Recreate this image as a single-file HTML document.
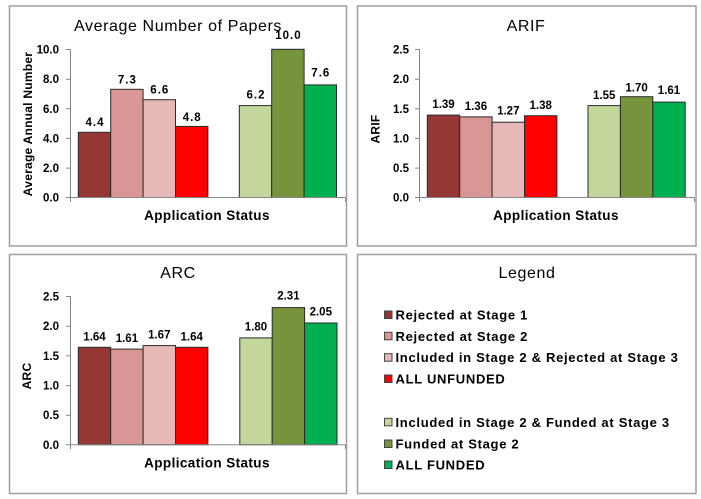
<!DOCTYPE html>
<html><head><meta charset="utf-8"><style>
html,body{margin:0;padding:0;background:#fff;}
svg{display:block;}
text{font-family:"Liberation Sans",Arial,sans-serif;fill:#000;}
.t{font-size:16px;letter-spacing:0.6px;}
.v{font-size:11.5px;font-weight:bold;text-anchor:middle;}
.v1{letter-spacing:1px;}
.yl{font-size:11.5px;font-weight:bold;text-anchor:end;}
.at{font-size:13.5px;font-weight:bold;letter-spacing:0.4px;text-anchor:middle;}
.ya{font-size:12px;font-weight:bold;letter-spacing:0.25px;text-anchor:middle;}
.lg{font-size:13px;font-weight:bold;letter-spacing:0.7px;}
.b{stroke:#2a2a2a;stroke-width:1;}
.ax{stroke:#868686;stroke-width:1;fill:none;}
.pn{fill:#fff;stroke:#a0a0a0;stroke-width:1.5;}
</style></head><body>
<svg width="701" height="499" viewBox="0 0 701 499" xmlns="http://www.w3.org/2000/svg">
<rect x="0" y="0" width="701" height="499" fill="#fff"/>
<!-- panels -->
<rect class="pn" x="9.5" y="6" width="337" height="240"/>
<rect class="pn" x="357.5" y="6" width="338.5" height="240"/>
<rect class="pn" x="9.5" y="254.5" width="337" height="239"/>
<rect class="pn" x="357.5" y="254.5" width="338.5" height="239"/>

<!-- Chart 1 -->
<text class="t" x="178" y="31" text-anchor="middle">Average Number of Papers</text>
<g class="yl">
<text x="59" y="53.5">10.0</text>
<text x="59" y="83.2">8.0</text>
<text x="59" y="112.8">6.0</text>
<text x="59" y="142.4">4.0</text>
<text x="59" y="172.1">2.0</text>
<text x="59" y="201.7">0.0</text>
</g>
<text class="ya" transform="translate(32,124) rotate(-90)">Average Annual Number</text>
<rect class="b" x="78.3" y="132.3" width="32.4" height="65.2" fill="#953735"/>
<rect class="b" x="110.7" y="89.3" width="32.4" height="108.2" fill="#D99694"/>
<rect class="b" x="143.1" y="99.7" width="32.4" height="97.8" fill="#E6B9B8"/>
<rect class="b" x="175.5" y="126.4" width="32.4" height="71.1" fill="#FF0000"/>
<rect class="b" x="239.3" y="105.6" width="32.4" height="91.9" fill="#C3D69B"/>
<rect class="b" x="271.7" y="49.3" width="32.4" height="148.2" fill="#77933C"/>
<rect class="b" x="304.1" y="84.9" width="32.4" height="112.6" fill="#00B050"/>
<path class="ax" d="M70.5 49.3V197.5M66 49.5H70.5M66 79.2H70.5M66 108.8H70.5M66 138.4H70.5M66 168.1H70.5M66 197.5H345.5M70.5 197.5V202M345.5 197.5V202"/>
<g class="v v1">
<text x="95" y="126">4.4</text>
<text x="127.4" y="83.5">7.3</text>
<text x="159.8" y="93.3">6.6</text>
<text x="192.2" y="121">4.8</text>
<text x="256" y="98.3">6.2</text>
<text x="288.4" y="39">10.0</text>
<text x="320.8" y="76.7">7.6</text>
</g>
<text class="at" x="207" y="220">Application Status</text>

<!-- Chart 2 -->
<text class="t" x="526" y="31" text-anchor="middle">ARIF</text>
<g class="yl">
<text x="409" y="53.5">2.5</text>
<text x="409" y="83.2">2.0</text>
<text x="409" y="112.8">1.5</text>
<text x="409" y="142.4">1.0</text>
<text x="409" y="172.1">0.5</text>
<text x="409" y="201.7">0.0</text>
</g>
<text class="ya" transform="translate(379.5,129) rotate(-90)">ARIF</text>
<rect class="b" x="427.3" y="115.1" width="32.4" height="82.4" fill="#953735"/>
<rect class="b" x="459.7" y="116.9" width="32.4" height="80.6" fill="#D99694"/>
<rect class="b" x="492.1" y="122.2" width="32.4" height="75.3" fill="#E6B9B8"/>
<rect class="b" x="524.5" y="115.7" width="32.4" height="81.8" fill="#FF0000"/>
<rect class="b" x="588" y="105.6" width="32.4" height="91.9" fill="#C3D69B"/>
<rect class="b" x="620.4" y="96.7" width="32.4" height="100.8" fill="#77933C"/>
<rect class="b" x="652.8" y="102.1" width="32.4" height="95.4" fill="#00B050"/>
<path class="ax" d="M419.5 49.3V197.5M415 49.5H419.5M415 79.2H419.5M415 108.8H419.5M415 138.4H419.5M415 168.1H419.5M415 197.5H694.5M419.5 197.5V202M694.5 197.5V202"/>
<g class="v">
<text x="443.5" y="108">1.39</text>
<text x="475.9" y="110">1.36</text>
<text x="508.3" y="114.7">1.27</text>
<text x="540.7" y="109">1.38</text>
<text x="604.2" y="99">1.55</text>
<text x="636.6" y="91.3">1.70</text>
<text x="669" y="94">1.61</text>
</g>
<text class="at" x="556" y="220">Application Status</text>

<!-- Chart 3 -->
<text class="t" x="178" y="278" text-anchor="middle">ARC</text>
<g class="yl">
<text x="59" y="300.5">2.5</text>
<text x="59" y="330.2">2.0</text>
<text x="59" y="359.9">1.5</text>
<text x="59" y="389.6">1.0</text>
<text x="59" y="419.2">0.5</text>
<text x="59" y="448.9">0.0</text>
</g>
<text class="ya" transform="translate(31,376) rotate(-90)">ARC</text>
<rect class="b" x="78.3" y="347.3" width="32.4" height="97.4" fill="#953735"/>
<rect class="b" x="110.7" y="349.1" width="32.4" height="95.6" fill="#D99694"/>
<rect class="b" x="143.1" y="345.6" width="32.4" height="99.1" fill="#E6B9B8"/>
<rect class="b" x="175.5" y="347.3" width="32.4" height="97.4" fill="#FF0000"/>
<rect class="b" x="239.8" y="337.9" width="32.4" height="106.8" fill="#C3D69B"/>
<rect class="b" x="272.2" y="307.6" width="32.4" height="137.1" fill="#77933C"/>
<rect class="b" x="304.6" y="323.0" width="32.4" height="121.7" fill="#00B050"/>
<path class="ax" d="M70.5 296.3V444.7M66 296.5H70.5M66 326.2H70.5M66 355.9H70.5M66 385.6H70.5M66 415.2H70.5M66 444.7H345.5M70.5 444.7V449M345.5 444.7V449"/>
<g class="v">
<text x="94.5" y="340.3">1.64</text>
<text x="126.9" y="341.8">1.61</text>
<text x="159.3" y="338.3">1.67</text>
<text x="191.7" y="340.3">1.64</text>
<text x="256" y="330.5">1.80</text>
<text x="288.4" y="299.7">2.31</text>
<text x="320.8" y="315.5">2.05</text>
</g>
<text class="at" x="207" y="467.3">Application Status</text>

<!-- Legend -->
<text class="t" x="527" y="278" text-anchor="middle">Legend</text>
<g stroke="#444" stroke-width="1">
<rect x="384.5" y="311" width="7.5" height="7.5" fill="#953735"/>
<rect x="384.5" y="332.3" width="7.5" height="7.5" fill="#D99694"/>
<rect x="384.5" y="353.7" width="7.5" height="7.5" fill="#E6B9B8"/>
<rect x="384.5" y="375" width="7.5" height="7.5" fill="#FF0000"/>
<rect x="384.5" y="418.3" width="7.5" height="7.5" fill="#C3D69B"/>
<rect x="384.5" y="440" width="7.5" height="7.5" fill="#77933C"/>
<rect x="384.5" y="461" width="7.5" height="7.5" fill="#00B050"/>
</g>
<g class="lg">
<text x="395.5" y="319.5">Rejected at Stage 1</text>
<text x="395.5" y="340.8">Rejected at Stage 2</text>
<text x="395.5" y="362.2">Included in Stage 2 &amp; Rejected at Stage 3</text>
<text x="395.5" y="383.5">ALL UNFUNDED</text>
<text x="395.5" y="426.8">Included in Stage 2 &amp; Funded at Stage 3</text>
<text x="395.5" y="448.5">Funded at Stage 2</text>
<text x="395.5" y="469.5">ALL FUNDED</text>
</g>
</svg>
</body></html>
